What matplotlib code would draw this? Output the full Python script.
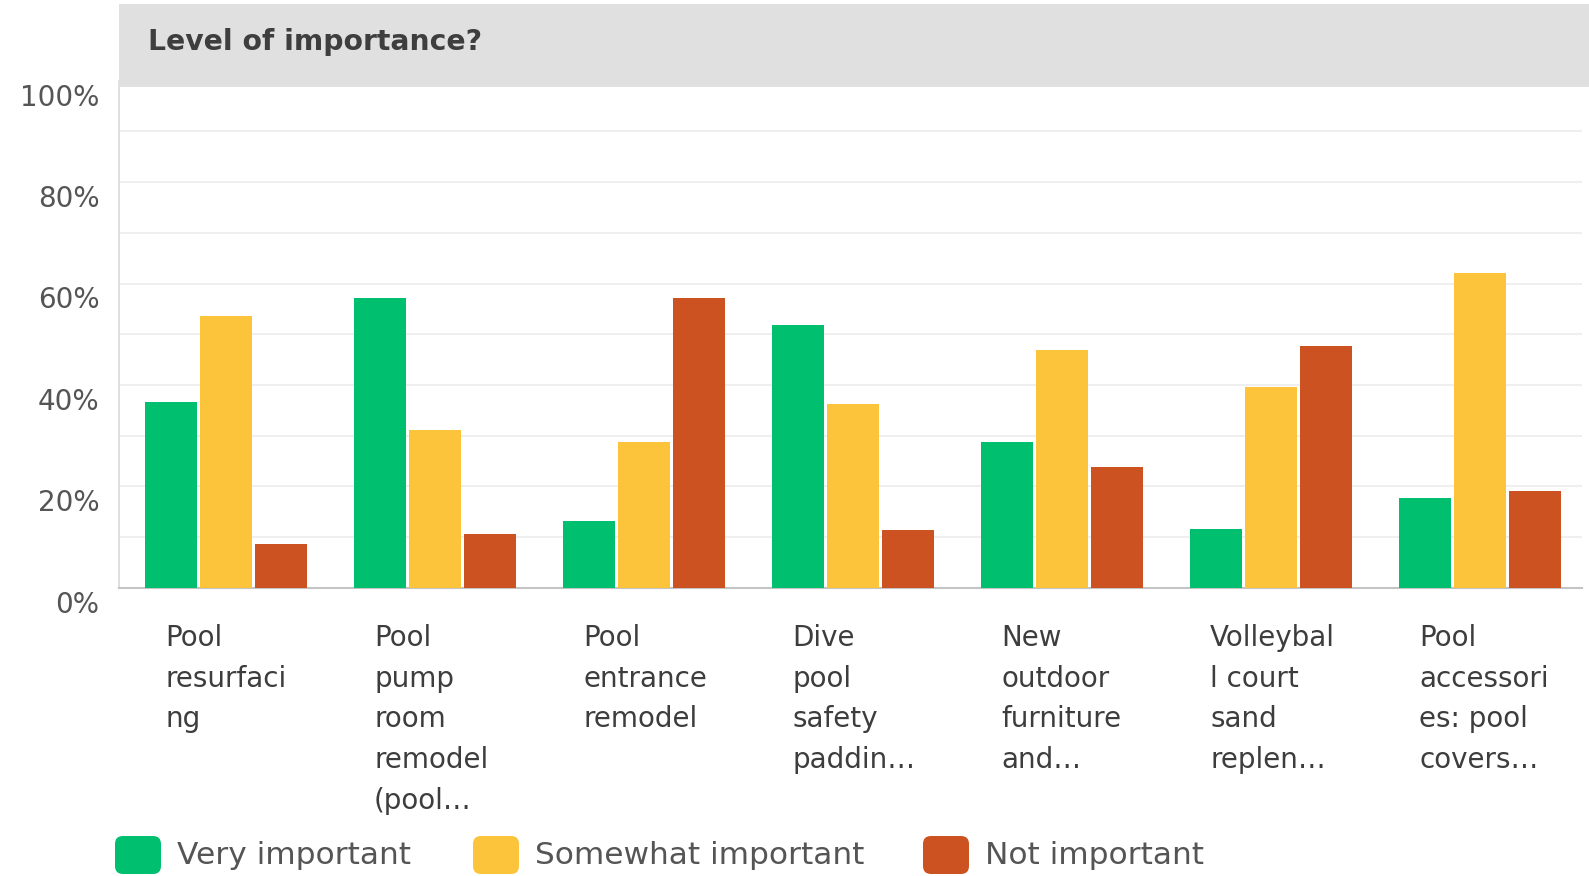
import matplotlib
matplotlib.use("Agg")
import matplotlib.pyplot as plt
import matplotlib.transforms as mtransforms
from matplotlib.patches import Rectangle, FancyBboxPatch
import numpy as np

# ---------------- data ----------------
categories = [
    "Pool\nresurfaci\nng",
    "Pool\npump\nroom\nremodel\n(pool…",
    "Pool\nentrance\nremodel",
    "Dive\npool\nsafety\npaddin…",
    "New\noutdoor\nfurniture\nand…",
    "Volleybal\nl court\nsand\nreplen…",
    "Pool\naccessori\nes: pool\ncovers…",
]
very_important = [36.6, 57.1, 13.2, 51.8, 28.8, 11.6, 17.6]
somewhat_important = [53.6, 31.2, 28.8, 36.2, 46.8, 39.6, 62.1]
not_important = [8.6, 10.6, 57.2, 11.4, 23.8, 47.6, 19.1]
series_names = ["Very important", "Somewhat important", "Not important"]
colors = ["#00bf6f", "#fbc43a", "#cd5221"]
title = "Level of importance?"
ytick_values = [0, 20, 40, 60, 80, 100]
ytick_labels = ["0%", "20%", "40%", "60%", "80%", "100%"]

# ---------------- figure ----------------
W, H = 1589, 876
fig = plt.figure(figsize=(W / 100, H / 100), dpi=100)
fig.patch.set_facecolor("white")

FONT = "DejaVu Sans"
plt.rcParams["font.family"] = [FONT]

ax_left, ax_right = 119, 1582
ax_bottom, ax_top = 587.7, 80.7
ax = fig.add_axes([ax_left / W, 1 - ax_bottom / H,
                   (ax_right - ax_left) / W, (ax_bottom - ax_top) / H])

x = np.arange(len(categories))
bar_w = 0.249
step = 0.2646
all_series = [very_important, somewhat_important, not_important]
for k, (vals, c) in enumerate(zip(all_series, colors)):
    ax.bar(x + (k - 1) * step, vals, width=bar_w, color=c, zorder=3, linewidth=0)

ax.set_xlim(-0.512, len(categories) - 0.512)
ax.set_ylim(0, 100)

# grid
ax.set_yticks(ytick_values)
ax.set_yticks(np.arange(10, 100, 20), minor=True)
ax.yaxis.grid(True, which="both", color="#ececec", linewidth=1.2, zorder=0)
ax.xaxis.grid(False)
ax.tick_params(axis="both", which="both", length=0)
ax.set_yticklabels(ytick_labels, fontsize=20, color="#555555")
ax.tick_params(axis="y", pad=14)
offset_y = mtransforms.ScaledTranslation(0, -14 / 100, fig.dpi_scale_trans)
for lab in ax.get_yticklabels():
    lab.set_transform(lab.get_transform() + offset_y)

ax.set_xticks(x)
ax.set_xticklabels(categories, fontsize=20, color="#3d3d3d",
                   ha="left", va="top", linespacing=1.58)
ax.tick_params(axis="x", pad=26)
offset_x = mtransforms.ScaledTranslation(-61 / 100, 0, fig.dpi_scale_trans)
for lab in ax.get_xticklabels():
    lab.set_transform(lab.get_transform() + offset_x)

for s in ["top", "right"]:
    ax.spines[s].set_visible(False)
ax.spines["left"].set_color("#d9d9d9")
ax.spines["bottom"].set_color("#c4c4c4")
ax.spines["left"].set_linewidth(1.2)
ax.spines["bottom"].set_linewidth(1.5)

# header band
header = Rectangle((119 / W, 1 - 87 / H), 1 - 119 / W, 83 / H,
                   transform=fig.transFigure, facecolor="#e0e0e0",
                   edgecolor="none", zorder=10)
fig.add_artist(header)
fig.text(148 / W, 1 - 42 / H, title, fontsize=20.3, fontweight="bold",
         color="#3e3e3e", ha="left", va="center", zorder=11)

# legend
leg_x = [115, 473, 923]
for lx, name, c in zip(leg_x, series_names, colors):
    box = FancyBboxPatch((lx / W, 1 - 874 / H), 46 / W, 38 / H,
                         boxstyle="round,pad=0,rounding_size=0.005",
                         transform=fig.transFigure, facecolor=c,
                         edgecolor="none", mutation_aspect=W / H)
    fig.add_artist(box)
    fig.text((lx + 62) / W, 1 - 856 / H, name, fontsize=22.5, color="#555555",
             ha="left", va="center")

fig.savefig("out.png", dpi=100, facecolor="white")
